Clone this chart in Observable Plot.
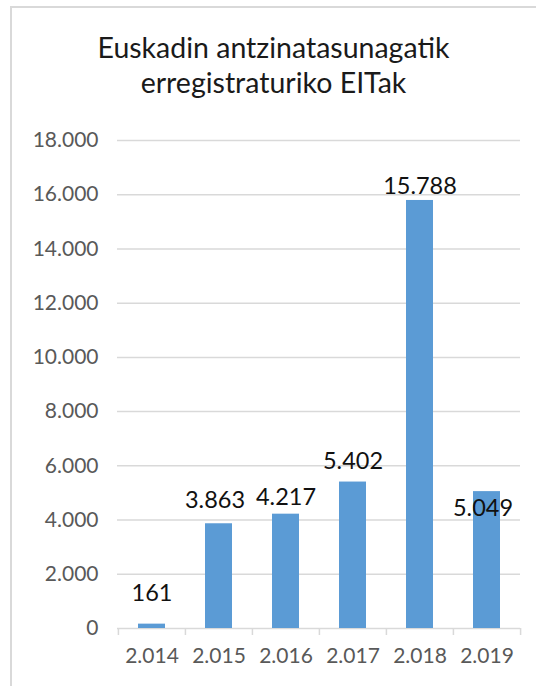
<!DOCTYPE html>
<html>
<head>
<meta charset="utf-8">
<script src="https://cdn.jsdelivr.net/npm/d3@7"></script>
<script src="https://cdn.jsdelivr.net/npm/@observablehq/plot@0.6"></script>
<style>
  html, body { margin: 0; padding: 0; background: #fff; overflow: hidden; }
  #frame { position: absolute; left: 10px; top: 6px; width: 540px; height: 700px;
           border-left: 2px solid #d9d9d9; border-top: 2px solid #d9d9d9; box-sizing: border-box; }
  #title { position: absolute; left: 11px; width: 525px; top: 30px; text-align: center;
           font-family: Lato, "Open Sans", sans-serif; font-size: 28.5px; line-height: 35px; color: #1a1a1a; }
  #chart { position: absolute; left: 0; top: 110px; }
</style>
</head>
<body>
<div id="frame"></div>
<div id="title">Euskadin antzinatasunagatik<br>erregistraturiko EITak</div>
<div id="chart"></div>
<script>
const years = ["2.014", "2.015", "2.016", "2.017", "2.018", "2.019"];
const values = [161, 3863, 4217, 5402, 15788, 5049];
const labels = ["161", "3.863", "4.217", "5.402", "15.788", "5.049"];
const yTicks = [0, 2000, 4000, 6000, 8000, 10000, 12000, 14000, 16000, 18000];
const yTickLabels = ["0", "2.000", "4.000", "6.000", "8.000", "10.000", "12.000", "14.000", "16.000", "18.000"];

const data = years.map((y, i) => ({year: y, value: values[i], label: labels[i]}));

// Excel-like data label placement (pixel offsets)
const labelDy = [-31, -23, -17, -21, -14, 17];
const labelDx = [0, -4, 0, 0, 0, -4];

const W = 536, H = 576;
const mL = 117, mR = 16, mT = 30, mB = 58;
const step = (W - mL - mR) / 6;

const gray = "#d9d9d9";
const font = "Lato, 'Open Sans', sans-serif";

const plot = Plot.plot({
  width: W, height: H,
  marginLeft: mL, marginRight: mR, marginTop: mT, marginBottom: mB,
  style: {fontFamily: font, background: "transparent", overflow: "visible"},
  x: {type: "band", domain: years, paddingInner: 0.6, paddingOuter: 0.3, label: null},
  y: {domain: [0, 18000], label: null},
  marks: [
    Plot.ruleY(yTicks, {y: d => d, stroke: gray, strokeWidth: 1.5}),
    Plot.ruleX(years, {x: d => d, y1: 0, y2: 0, insetBottom: -7, dx: -step / 2, stroke: gray, strokeWidth: 1.5}),
    Plot.ruleX([years[years.length - 1]], {x: d => d, y1: 0, y2: 0, insetBottom: -7, dx: step / 2, stroke: gray, strokeWidth: 1.5}),
    Plot.barY(data, {x: "year", y: "value", fill: "#5b9bd5"}),
    ...data.map((d, i) => Plot.text([d], {
      x: "year", y: "value", text: "label",
      dy: labelDy[i], dx: labelDx[i],
      fill: "#111", fontSize: 23.5, lineAnchor: "middle"
    })),
    Plot.axisY(yTicks, {tickFormat: (d, i) => yTickLabels[yTicks.indexOf(d)], tickSize: 0, tickPadding: 19,
      fontSize: 21, color: "#595959", fill: "#595959"}),
    Plot.axisX({tickSize: 0, tickPadding: 20, fontSize: 21, fill: "#595959", label: null})
  ]
});
document.getElementById("chart").appendChild(plot);
</script>
</body>
</html>
